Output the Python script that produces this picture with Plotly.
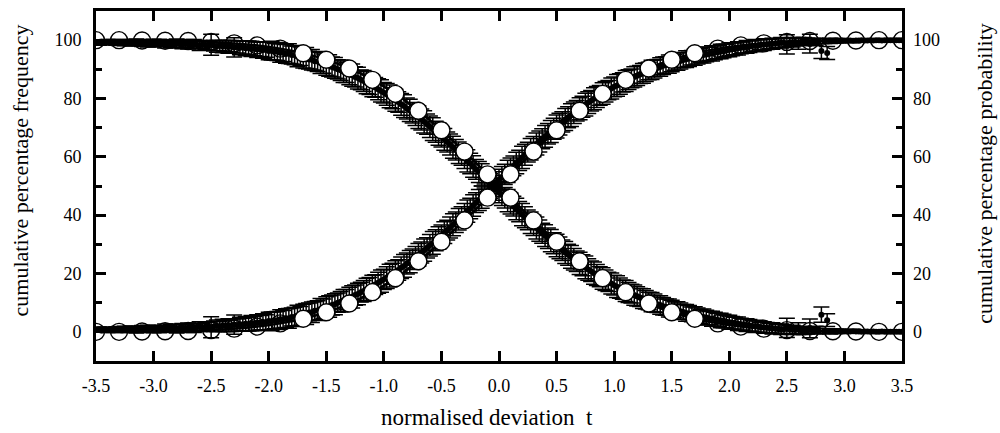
import plotly.graph_objects as go

# ---------------- data ----------------
# open-circle reference points (t = -3.5 ... 3.5, step 0.2)
circ_t = [-3.5, -3.3, -3.1, -2.9, -2.7, -2.5, -2.3, -2.1, -1.9, -1.7, -1.5, -1.3,
          -1.1, -0.9, -0.7, -0.5, -0.3, -0.1, 0.1, 0.3, 0.5, 0.7, 0.9, 1.1,
          1.3, 1.5, 1.7, 1.9, 2.1, 2.3, 2.5, 2.7, 2.9, 3.1, 3.3, 3.5]
circ_inc = [0.0, 0.0, 0.1, 0.2, 0.3, 0.6, 1.1, 1.8, 2.9, 4.5, 6.7, 9.7, 13.6, 18.4,
            24.2, 30.9, 38.2, 46.0, 54.0, 61.8, 69.1, 75.8, 81.6, 86.4, 90.3, 93.3,
            95.5, 97.1, 98.2, 98.9, 99.4, 99.7, 99.8, 99.9, 100.0, 100.0]
circ_dec = [100.0, 100.0, 99.9, 99.8, 99.7, 99.4, 98.9, 98.2, 97.1, 95.5, 93.3, 90.3,
            86.4, 81.6, 75.8, 69.1, 61.8, 54.0, 46.0, 38.2, 30.9, 24.2, 18.4, 13.6,
            9.7, 6.7, 4.5, 2.9, 1.8, 1.1, 0.6, 0.3, 0.2, 0.1, 0.0, 0.0]

# measured points (t = -3.5 ... 3.5, step 0.025)
dot_t = [round(-3.5 + 0.025 * i, 3) for i in range(281)]
dot_inc = [
    0.6, 0.9, 0.5, 0.8, 0.7, 1.0, 0.6, 0.9, 0.8, 0.5, 1.0, 0.7, 0.9, 1.1, 0.6, 0.9, 1.0, 0.8, 1.2, 0.9,
    1.0, 1.2, 0.9, 1.1, 1.3, 1.0, 1.2, 1.4, 1.1, 1.3, 1.5, 1.2, 1.4, 1.6, 1.3, 1.6, 1.8, 1.5, 1.7, 1.9,
    1.6, 1.9, 2.1, 1.8, 2.2, 2.0, 2.3, 2.1, 2.5, 2.3, 2.6, 2.5, 2.8, 2.6, 3.0, 2.9, 3.2, 3.1, 3.4, 3.3,
    3.7, 3.6, 4.0, 3.9, 4.3, 4.3, 4.7, 4.6, 5.1, 5.1, 5.6, 5.5, 6.1, 6.1, 6.6, 6.7, 7.2, 7.3, 7.8, 8.0,
    8.5, 8.7, 9.2, 9.5, 10.0, 10.3, 10.8, 11.1, 11.7, 12.0, 12.6, 13.0, 13.6, 14.0, 14.6, 15.1, 15.7, 16.2, 16.8, 17.4,
    18.0, 18.6, 19.3, 19.9, 20.6, 21.2, 22.0, 22.6, 23.4, 24.1, 24.9, 25.6, 26.4, 27.2, 28.0, 28.8, 29.7, 30.5, 31.4, 32.2,
    33.1, 34.0, 34.9, 35.8, 36.7, 37.6, 38.6, 39.5, 40.4, 41.4, 42.3, 43.3, 44.3, 45.2, 46.2, 47.2, 48.2, 49.2, 50.1, 51.1,
    52.1,
    53.0, 54.0, 55.0, 56.0, 56.9, 57.9, 58.8, 59.8, 60.7, 61.6, 62.6, 63.5, 64.4, 65.3, 66.2, 67.0, 67.9, 68.7, 69.6, 70.4,
    71.2, 72.0, 72.8, 73.6, 74.3, 75.1, 75.8, 76.5, 77.2, 77.9, 78.6, 79.2, 79.9, 80.5, 81.1, 81.7, 82.3, 82.9, 83.4, 84.0,
    84.5, 85.0, 85.5, 86.0, 86.5, 86.9, 87.4, 87.8, 88.2, 88.6, 89.0, 89.4, 89.8, 90.1, 90.5, 90.8, 91.2, 91.5, 91.8, 92.1,
    92.4, 92.7, 92.9, 93.2, 93.5, 93.7, 94.0, 94.2, 94.4, 94.7, 94.9, 95.1, 95.3, 95.5, 95.7, 95.9, 96.1, 96.3, 96.5, 96.7,
    96.9, 97.0, 97.2, 97.4, 97.5, 97.7, 97.8, 98.0, 98.1, 98.2, 98.4, 98.5, 98.6, 98.7, 98.8, 98.9, 99.0, 99.1, 99.1, 98.6,
    99.3, 99.3, 99.4, 98.9, 99.5, 99.5, 99.6, 98.8, 99.6, 99.4, 99.7, 96.3, 99.7, 95.6, 99.8, 99.7, 99.8, 99.8, 99.9, 99.8,
    99.9, 99.9, 99.8, 99.9, 99.9, 100.0, 99.9, 99.9, 100.0, 99.9, 100.0, 100.0, 99.9, 100.0, 100.0, 100.0, 100.0, 100.0, 100.0, 100.0]
dot_dec = [
    99.4, 99.1, 99.5, 99.2, 99.3, 99.0, 99.4, 99.1, 99.2, 99.5, 99.0, 99.3, 99.1, 98.9, 99.4, 99.1, 99.0, 99.2, 98.8, 99.1,
    99.0, 98.8, 99.1, 98.9, 98.7, 99.0, 98.8, 98.6, 98.9, 98.7, 98.5, 98.8, 98.6, 98.4, 98.7, 98.4, 98.2, 98.5, 98.3, 98.1,
    98.4, 98.1, 97.9, 98.2, 97.8, 98.0, 97.7, 97.9, 97.5, 97.7, 97.4, 97.5, 97.2, 97.4, 97.0, 97.1, 96.8, 96.9, 96.6, 96.7,
    96.3, 96.4, 96.0, 96.1, 95.7, 95.7, 95.3, 95.4, 94.9, 94.9, 94.4, 94.5, 93.9, 93.9, 93.4, 93.3, 92.8, 92.7, 92.2, 92.0,
    91.5, 91.3, 90.8, 90.5, 90.0, 89.7, 89.2, 88.9, 88.3, 88.0, 87.4, 87.0, 86.4, 86.0, 85.4, 84.9, 84.3, 83.8, 83.2, 82.6,
    82.0, 81.4, 80.7, 80.1, 79.4, 78.8, 78.0, 77.4, 76.6, 75.9, 75.1, 74.4, 73.6, 72.8, 72.0, 71.2, 70.3, 69.5, 68.6, 67.8,
    66.9, 66.0, 65.1, 64.2, 63.3, 62.4, 61.4, 60.5, 59.6, 58.6, 57.7, 56.7, 55.7, 54.8, 53.8, 52.8, 51.8, 50.8, 49.9, 48.9,
    47.9,
    47.0, 46.0, 45.0, 44.0, 43.1, 42.1, 41.2, 40.2, 39.3, 38.4, 37.4, 36.5, 35.6, 34.7, 33.8, 33.0, 32.1, 31.3, 30.4, 29.6,
    28.8, 28.0, 27.2, 26.4, 25.7, 24.9, 24.2, 23.5, 22.8, 22.1, 21.4, 20.8, 20.1, 19.5, 18.9, 18.3, 17.7, 17.1, 16.6, 16.0,
    15.5, 15.0, 14.5, 14.0, 13.5, 13.1, 12.6, 12.2, 11.8, 11.4, 11.0, 10.6, 10.2, 9.9, 9.5, 9.2, 8.8, 8.5, 8.2, 7.9,
    7.6, 7.3, 7.1, 6.8, 6.5, 6.3, 6.0, 5.8, 5.6, 5.3, 5.1, 4.9, 4.7, 4.5, 4.3, 4.1, 3.9, 3.7, 3.5, 3.3,
    3.1, 3.0, 2.8, 2.6, 2.5, 2.3, 2.2, 2.0, 1.9, 1.8, 1.6, 1.5, 1.4, 1.3, 1.2, 1.1, 1.0, 0.9, 0.9, 1.4,
    0.7, 0.7, 0.6, 1.1, 0.5, 0.5, 0.4, 1.2, 0.4, 0.6, 0.3, 5.9, 0.3, 4.0, 0.2, 0.3, 0.2, 0.2, 0.1, 0.2,
    0.1, 0.1, 0.2, 0.1, 0.1, 0.0, 0.1, 0.1, 0.0, 0.1, 0.0, 0.0, 0.1, 0.0, 0.0, 0.0, 0.0, 0.0, 0.0, 0.0]
dot_err = [
    0.6, 0.8, 0.5, 0.7, 0.9, 0.6, 0.8, 0.7, 1.0, 0.6, 0.9, 0.8, 1.1, 0.7, 1.0, 0.9, 1.2, 0.8, 1.1, 1.0,
    1.3, 0.9, 1.2, 1.1, 1.4, 1.0, 1.3, 1.2, 1.5, 1.1, 1.4, 1.3, 1.6, 1.2, 1.5, 1.4, 1.7, 1.3, 1.6, 1.5,
    3.6, 1.8, 2.0, 1.7, 2.1, 1.9, 2.2, 2.0, 3.3, 2.1, 2.4, 2.2, 2.5, 2.3, 2.6, 2.4, 2.7, 2.5, 2.8, 2.6,
    3.0, 3.2, 2.9, 3.1, 3.3, 3.0, 3.2, 3.4, 3.1, 3.3, 3.5, 3.2, 3.4, 3.6, 3.3, 3.5, 3.2, 3.4, 3.6, 3.3,
    3.5, 3.7, 3.4, 3.6, 3.3, 3.5, 3.7, 3.4, 3.6, 3.8, 3.5, 3.7, 3.4, 3.6, 3.8, 3.5, 3.7, 3.4, 3.6, 3.8,
    3.5, 3.7, 3.9, 3.6, 3.8, 3.5, 3.7, 3.9, 3.6, 3.8, 3.5, 3.7, 3.9, 3.6, 3.8, 3.5, 3.7, 3.9, 3.6, 3.8,
    3.5, 3.7, 3.4, 3.6, 3.8, 3.5, 3.7, 3.4, 3.6, 3.8, 3.5, 3.7, 3.4, 3.6, 3.8, 3.5, 3.7, 3.4, 3.6, 3.8,
    3.6,
    3.7, 3.5, 3.8, 3.6, 3.4, 3.7, 3.5, 3.8, 3.6, 3.4, 3.7, 3.5, 3.8, 3.6, 3.4, 3.7, 3.5, 3.8, 3.6, 3.9,
    3.7, 3.5, 3.8, 3.6, 3.9, 3.7, 3.5, 3.8, 3.6, 3.9, 3.7, 3.5, 3.8, 3.6, 3.4, 3.7, 3.5, 3.3, 3.6, 3.4,
    3.7, 3.5, 3.3, 3.6, 3.4, 3.2, 3.5, 3.3, 3.1, 3.4, 3.2, 3.0, 3.3, 3.1, 2.9, 3.2, 3.0, 2.8, 3.1, 2.9,
    2.7, 3.0, 2.8, 2.6, 2.9, 2.7, 2.5, 2.8, 2.6, 2.4, 2.7, 2.5, 2.3, 2.6, 2.4, 2.2, 2.5, 2.3, 2.1, 2.4,
    2.2, 2.0, 2.3, 2.1, 1.9, 2.2, 2.0, 1.8, 2.1, 1.9, 1.7, 2.0, 1.8, 1.6, 1.9, 1.7, 1.5, 1.8, 1.6, 3.3,
    1.4, 1.6, 1.3, 2.0, 1.2, 1.4, 1.1, 3.2, 1.0, 1.3, 0.9, 2.6, 0.8, 2.2, 0.9, 0.7, 0.8, 0.6, 0.7, 0.5,
    0.6, 0.5, 0.7, 0.5, 0.6, 0.4, 0.5, 0.6, 0.4, 0.5, 0.5, 0.4, 0.5, 0.4, 0.5, 0.4, 0.4, 0.5, 0.4, 0.4]

x_ticks = [-3.5, -3.0, -2.5, -2.0, -1.5, -1.0, -0.5, 0.0, 0.5, 1.0, 1.5, 2.0, 2.5, 3.0, 3.5]
y_ticks = [0, 20, 40, 60, 80, 100]

# ---------------- figure ----------------
FONT = "Liberation Serif, 'Times New Roman', 'DejaVu Serif', serif"
fig = go.Figure()

for ys in (dot_inc, dot_dec):
    fig.add_trace(go.Scatter(
        x=dot_t, y=ys, mode="markers",
        marker=dict(color="black", size=6),
        error_y=dict(type="data", array=dot_err, visible=True,
                     color="black", thickness=1.5, width=8),
        showlegend=False, hoverinfo="skip"))

for ys in (circ_inc, circ_dec):
    fig.add_trace(go.Scatter(
        x=circ_t, y=ys, mode="lines", line=dict(color="black", width=2.5, shape="spline"),
        showlegend=False, hoverinfo="skip"))

# circles: open in the flat tails, white-filled in the steep part
for ys in (circ_inc, circ_dec):
    tx = [t for t in circ_t if abs(t) >= 1.8]
    ty = [v for t, v in zip(circ_t, ys) if abs(t) >= 1.8]
    mx = [t for t in circ_t if abs(t) < 1.8]
    my = [v for t, v in zip(circ_t, ys) if abs(t) < 1.8]
    fig.add_trace(go.Scatter(
        x=tx, y=ty, mode="markers",
        marker=dict(symbol="circle-open", size=17, color="black", line=dict(width=1.4)),
        showlegend=False, hoverinfo="skip"))
    fig.add_trace(go.Scatter(
        x=mx, y=my, mode="markers",
        marker=dict(symbol="circle", size=17, color="white",
                    line=dict(color="black", width=1.4)),
        showlegend=False, hoverinfo="skip"))

# invisible trace on the right axis so it is drawn
fig.add_trace(go.Scatter(x=[0], y=[50], yaxis="y2", mode="markers",
                         marker=dict(opacity=0), showlegend=False, hoverinfo="skip"))

axis_common = dict(showgrid=False, zeroline=False, showline=True, linecolor="black",
                   linewidth=3, ticks="inside", tickcolor="black", tickwidth=3,
                   tickfont=dict(family=FONT, size=18, color="black"))

fig.update_layout(
    width=1000, height=433,
    margin=dict(l=96, r=98, t=8, b=72),
    plot_bgcolor="white", paper_bgcolor="white",
    font=dict(family=FONT, color="black"),
    xaxis=dict(range=[-3.5, 3.5], tickvals=x_ticks,
               ticktext=[f"{v:.1f}" for v in x_ticks],
               ticklen=10, mirror="ticks", ticklabelstandoff=6,
               minor=dict(dtick=0.5, tick0=0, ticks="inside", ticklen=6, tickwidth=3,
                          tickcolor="black"),
               **axis_common),
    yaxis=dict(range=[-10, 110], tickvals=y_ticks, ticklen=10, mirror="ticks",
               ticklabelstandoff=8,
               minor=dict(dtick=10, tick0=0, ticks="inside", ticklen=6, tickwidth=3,
                          tickcolor="black"),
               **axis_common),
    yaxis2=dict(range=[-10, 110], tickvals=y_ticks, overlaying="y", side="right",
                showgrid=False, zeroline=False, showline=False, ticks="",
                ticklabelstandoff=10,
                tickfont=dict(family=FONT, size=18, color="black")),
    annotations=[
        dict(text="normalised deviation  t", xref="paper", yref="paper",
             x=0.485, y=-0.161, xanchor="center", yanchor="middle", showarrow=False,
             font=dict(family=FONT, size=23, color="black")),
        dict(text="cumulative percentage frequency", xref="paper", yref="paper",
             x=-0.094, y=0.545, xanchor="center", yanchor="middle", showarrow=False,
             textangle=-90, font=dict(family=FONT, size=22, color="black")),
        dict(text="cumulative percentage probability", xref="paper", yref="paper",
             x=1.103, y=0.535, xanchor="center", yanchor="middle", showarrow=False,
             textangle=-90, font=dict(family=FONT, size=22, color="black")),
    ],
)

fig.write_html("out.html", config={"displayModeBar": False},
               post_script="document.body.style.margin='0';document.body.style.overflow='hidden';")
